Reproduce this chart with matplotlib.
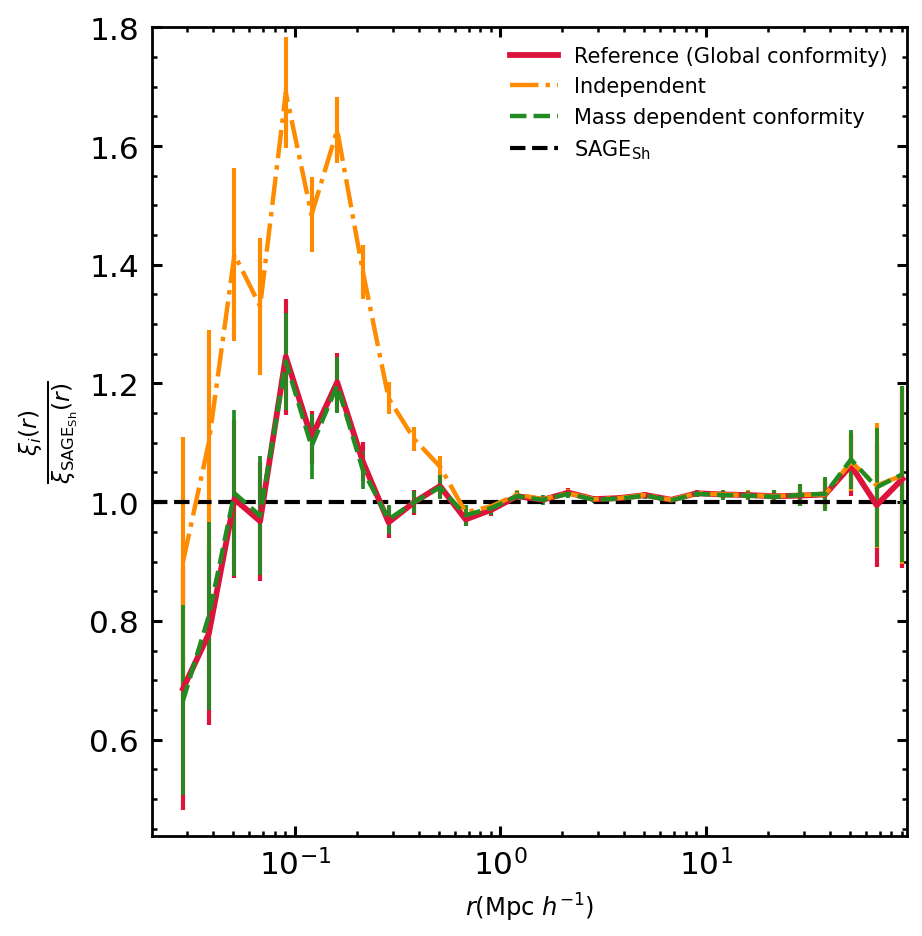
import matplotlib
matplotlib.use("Agg")
import matplotlib.pyplot as plt
from matplotlib.ticker import MultipleLocator, LogLocator, NullFormatter

r = [0.02858, 0.03811, 0.05082, 0.06776, 0.09036, 0.1205, 0.1607, 0.2143, 0.2858,
     0.3811, 0.5082, 0.6776, 0.9036, 1.205, 1.607, 2.143, 2.858, 3.811, 5.082,
     6.776, 9.036, 12.05, 16.07, 21.43, 28.58, 38.11, 50.82, 67.76, 90.36]

ref = [0.686, 0.778, 1.005, 0.968, 1.245, 1.109, 1.202, 1.068, 0.966, 1.000, 1.027,
       0.971, 0.987, 1.010, 1.004, 1.016, 1.005, 1.007, 1.012, 1.004, 1.015, 1.013,
       1.012, 1.010, 1.011, 1.013, 1.062, 0.995, 1.039]
ref_err = [0.205, 0.154, 0.133, 0.100, 0.098, 0.045, 0.050, 0.033, 0.027, 0.021, 0.020,
           0.012, 0.010, 0.008, 0.006, 0.008, 0.005, 0.005, 0.005, 0.005, 0.006, 0.006,
           0.008, 0.010, 0.018, 0.025, 0.052, 0.105, 0.150]

indep = [0.900, 1.100, 1.417, 1.330, 1.690, 1.484, 1.627, 1.388, 1.175, 1.106, 1.060,
         0.983, 0.993, 1.013, 1.005, 1.015, 1.005, 1.007, 1.012, 1.004, 1.015, 1.013,
         1.012, 1.010, 1.012, 1.013, 1.068, 1.028, 1.045]
indep_err = [0.210, 0.190, 0.146, 0.115, 0.094, 0.063, 0.056, 0.045, 0.027, 0.020, 0.017,
             0.010, 0.008, 0.007, 0.006, 0.007, 0.005, 0.005, 0.005, 0.005, 0.006, 0.006,
             0.008, 0.010, 0.018, 0.026, 0.050, 0.105, 0.150]

massdep = [0.666, 0.808, 1.015, 0.977, 1.237, 1.094, 1.197, 1.054, 0.971, 1.000, 1.025,
           0.978, 0.990, 1.010, 1.004, 1.014, 1.004, 1.006, 1.011, 1.003, 1.014, 1.012,
           1.011, 1.009, 1.012, 1.014, 1.072, 1.025, 1.047]
massdep_err = [0.160, 0.158, 0.140, 0.100, 0.082, 0.055, 0.047, 0.032, 0.025, 0.018, 0.020,
               0.018, 0.012, 0.008, 0.008, 0.007, 0.006, 0.006, 0.006, 0.006, 0.006, 0.008,
               0.008, 0.012, 0.018, 0.029, 0.050, 0.100, 0.148]

labels = ["Reference (Global conformity)", "Independent",
          "Mass dependent conformity", r"SAGE$_{\rm Sh}$"]

fig = plt.figure(figsize=(9.22, 9.37), dpi=100)
ax = fig.add_axes([0.1645, 0.107, 0.819, 0.8628])

c1 = ax.errorbar(r, ref, yerr=ref_err, color="crimson", ls="-", lw=4.2,
                 elinewidth=3.0, capsize=0)
c2 = ax.errorbar(r, indep, yerr=indep_err, color="darkorange", ls="-.", lw=3.2,
                 elinewidth=3.0, capsize=0)
c3 = ax.errorbar(r, massdep, yerr=massdep_err, color="forestgreen", ls="--", lw=3.2,
                 elinewidth=2.7, capsize=0)
h4 = ax.axhline(1.0, color="black", ls="--", lw=3.0)

ax.set_xscale("log")
ax.set_xlim(0.0201, 95)
ax.set_ylim(0.438, 1.8)

ax.yaxis.set_major_locator(MultipleLocator(0.2))
ax.yaxis.set_minor_locator(MultipleLocator(0.05))
ax.xaxis.set_major_locator(LogLocator(base=10, numticks=10))
ax.xaxis.set_minor_locator(LogLocator(base=10, subs=[2, 3, 4, 5, 6, 7, 8, 9], numticks=20))
ax.xaxis.set_minor_formatter(NullFormatter())

ax.tick_params(which="both", direction="in", top=True, right=True)
ax.tick_params(which="major", length=7, width=2.2, labelsize=22.5, pad=9)
ax.tick_params(which="minor", length=3.5, width=1.8)
for s in ax.spines.values():
    s.set_linewidth(2.0)

ax.set_xlabel(r"$r(\mathrm{Mpc}\ h^{-1})$", fontsize=17.5, labelpad=7)
ax.set_ylabel(r"$\frac{\xi_i(r)}{\xi_{\mathrm{SAGE_{Sh}}}(r)}$", fontsize=24, labelpad=6.5)

ax.legend(handles=[c1[0], c2[0], c3[0], h4], labels=labels, loc="upper right",
          frameon=False, fontsize=15, handlelength=2.3, labelspacing=0.5)

fig.savefig("out.png", dpi=100)
